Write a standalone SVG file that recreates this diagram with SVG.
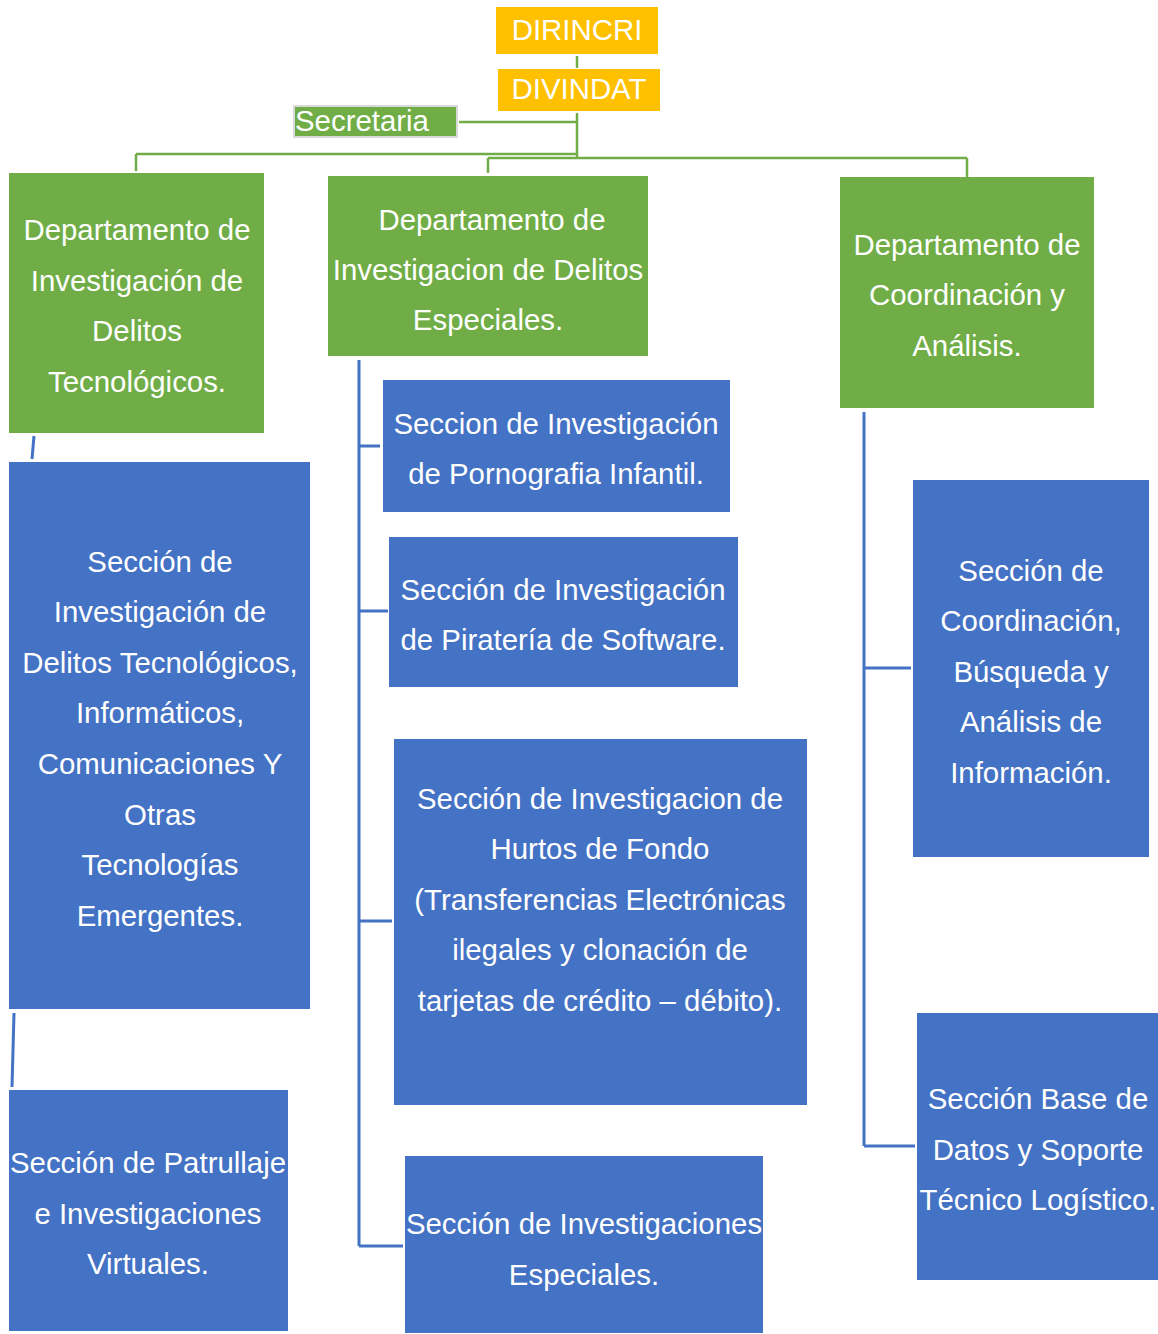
<svg xmlns="http://www.w3.org/2000/svg" width="1158" height="1334" viewBox="0 0 1158 1334">
<style>
.t{font-family:"Liberation Sans",Arial,sans-serif;font-size:29.4px;fill:#ffffff;text-anchor:middle}
.yl{fill:#FFC000}
.gr{fill:#70AD47}
.bl{fill:#4472C4}
.gc{stroke:#70AD47;stroke-width:2.5;fill:none}
.bc{stroke:#4472C4;stroke-width:3;fill:none}
</style>
<rect width="1158" height="1334" fill="#ffffff"/>
<g id="connectors">
<path class="gc" d="M577 56V68 M577 113V157 M459 122H577 M136 154H577 M488 158H967 M488 158V173 M136 154V171 M967 158V177"/>
<path class="bc" d="M34 436L32 459 M14 1013L12 1087 M359 360V1246 M359 446H380 M359 611H388 M359 921H392 M359 1246H403 M864 412V1146 M864 668H911 M864 1146H915"/>
</g>
<g id="dirincri"><rect class="yl" x="496" y="7" width="162" height="47"/><text class="t" x="577" y="40">DIRINCRI</text></g>
<g id="divindat"><rect class="yl" x="498" y="69" width="162" height="42"/><text class="t" x="579" y="99">DIVINDAT</text></g>
<g id="secretaria"><rect class="gr" x="294" y="106" width="163" height="31" stroke="#d9d9d9" stroke-width="2"/><text class="t" x="295" y="131" style="text-anchor:start">Secretaria</text></g>
<g id="dept-tecnologicos"><rect class="gr" x="9" y="173" width="255" height="260"/>
<text class="t" x="137" y="240">Departamento de</text><text class="t" x="137" y="291">Investigación de</text><text class="t" x="137" y="341">Delitos</text><text class="t" x="137" y="392">Tecnológicos.</text></g>
<g id="dept-especiales"><rect class="gr" x="328" y="176" width="320" height="180"/>
<text class="t" x="492" y="230">Departamento de</text><text class="t" x="488" y="280">Investigacion de Delitos</text><text class="t" x="488" y="330">Especiales.</text></g>
<g id="dept-coordinacion"><rect class="gr" x="840" y="177" width="254" height="231"/>
<text class="t" x="967" y="255">Departamento de</text><text class="t" x="967" y="305">Coordinación y</text><text class="t" x="967" y="356">Análisis.</text></g>
<g id="sec-delitos-tec"><rect class="bl" x="9" y="462" width="301" height="547"/>
<text class="t" x="160" y="572">Sección de</text><text class="t" x="160" y="622">Investigación de</text><text class="t" x="160" y="673">Delitos Tecnológicos,</text><text class="t" x="160" y="723">Informáticos,</text><text class="t" x="160" y="774">Comunicaciones Y</text><text class="t" x="160" y="825">Otras</text><text class="t" x="160" y="875">Tecnologías</text><text class="t" x="160" y="926">Emergentes.</text></g>
<g id="sec-patrullaje"><rect class="bl" x="9" y="1090" width="279" height="241"/>
<text class="t" x="148" y="1173">Sección de Patrullaje</text><text class="t" x="148" y="1224">e Investigaciones</text><text class="t" x="148" y="1274">Virtuales.</text></g>
<g id="sec-pornografia"><rect class="bl" x="383" y="380" width="347" height="132"/>
<text class="t" x="556" y="434">Seccion de Investigación</text><text class="t" x="556" y="484">de Pornografia Infantil.</text></g>
<g id="sec-pirateria"><rect class="bl" x="389" y="537" width="349" height="150"/>
<text class="t" x="563" y="600">Sección de Investigación</text><text class="t" x="563" y="650">de Piratería de Software.</text></g>
<g id="sec-hurtos"><rect class="bl" x="394" y="739" width="413" height="366"/>
<text class="t" x="600" y="809">Sección de Investigacion de</text><text class="t" x="600" y="859">Hurtos de Fondo</text><text class="t" x="600" y="910">(Transferencias Electrónicas</text><text class="t" x="600" y="960">ilegales y clonación de</text><text class="t" x="600" y="1011">tarjetas de crédito – débito).</text></g>
<g id="sec-especiales"><rect class="bl" x="405" y="1156" width="358" height="177"/>
<text class="t" x="584" y="1234">Sección de Investigaciones</text><text class="t" x="584" y="1285">Especiales.</text></g>
<g id="sec-coordinacion"><rect class="bl" x="913" y="480" width="236" height="377"/>
<text class="t" x="1031" y="581">Sección de</text><text class="t" x="1031" y="631">Coordinación,</text><text class="t" x="1031" y="682">Búsqueda y</text><text class="t" x="1031" y="732">Análisis de</text><text class="t" x="1031" y="783">Información.</text></g>
<g id="sec-base-datos"><rect class="bl" x="917" y="1013" width="241" height="267"/>
<text class="t" x="1038" y="1109">Sección Base de</text><text class="t" x="1038" y="1160">Datos y Soporte</text><text class="t" x="1038" y="1210">Técnico Logístico.</text></g>
</svg>
